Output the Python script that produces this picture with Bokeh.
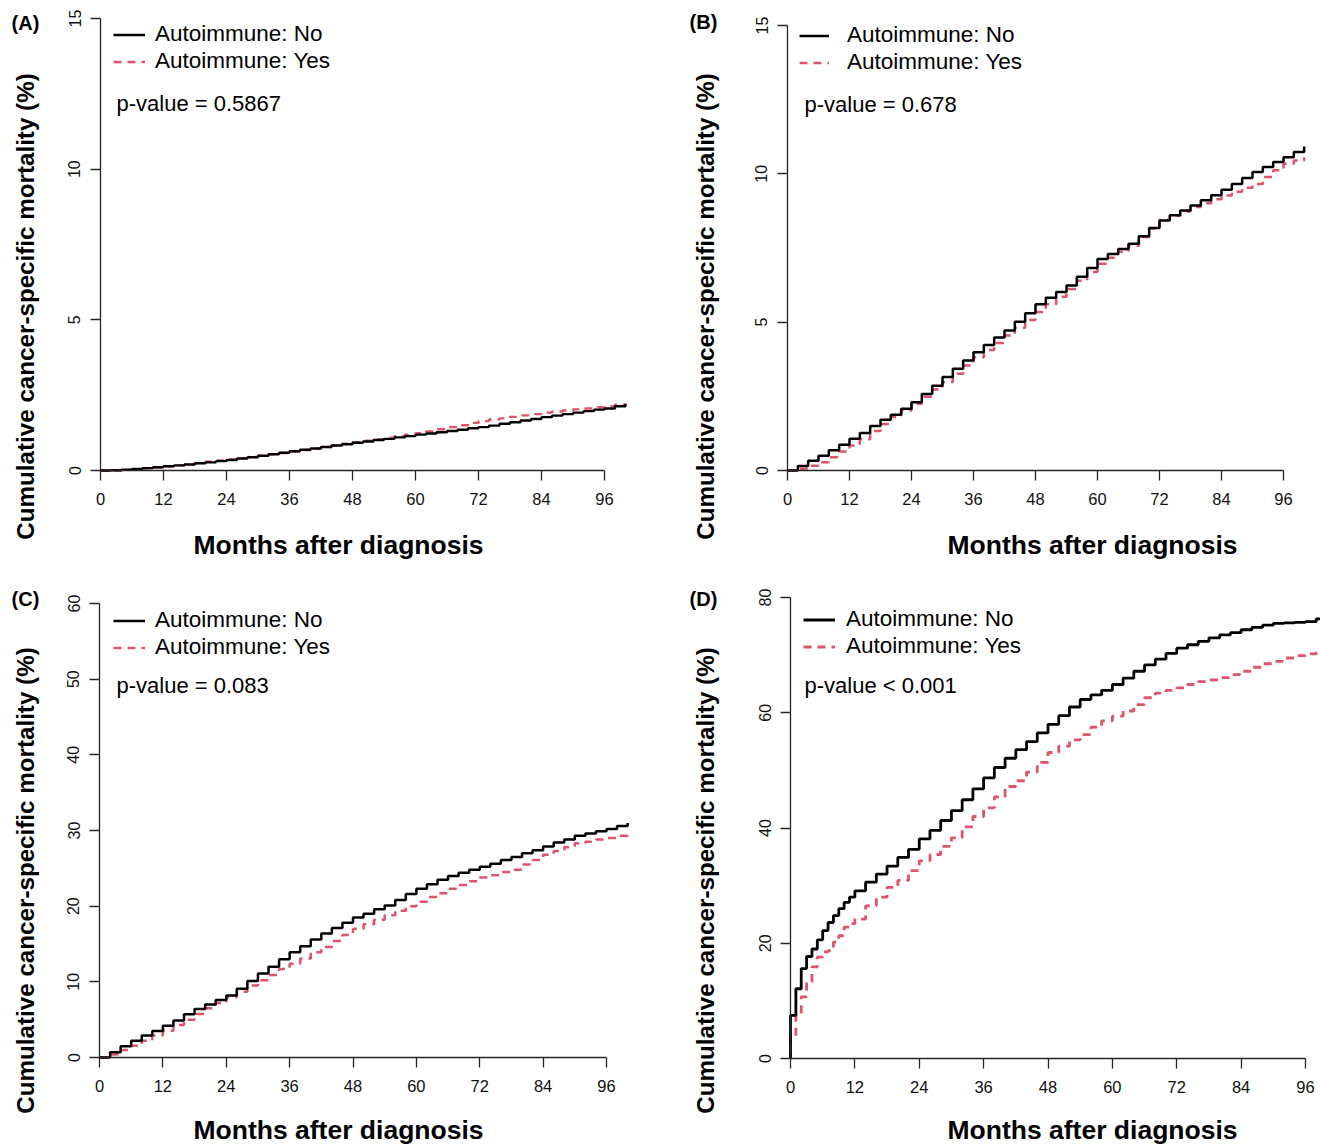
from math import pi
from bokeh.plotting import figure
from bokeh.models import Range1d, FixedTicker, Label, Legend, LegendItem, ColumnDataSource, LinearAxis
from bokeh.layouts import row, column
from bokeh.embed import file_html
from bokeh.resources import INLINE

# ---------------- data ----------------
X_TICKS = [0, 12, 24, 36, 48, 60, 72, 84, 96]
MONTHS = list(range(0, 101, 2))

A_NO = [0, 0.01, 0.03, 0.05, 0.08, 0.11, 0.14, 0.17, 0.20, 0.24,
        0.27, 0.31, 0.35, 0.40, 0.44, 0.49, 0.54, 0.59, 0.64, 0.69,
        0.73, 0.78, 0.83, 0.87, 0.92, 0.96, 1.01, 1.05, 1.10, 1.14,
        1.19, 1.23, 1.27, 1.31, 1.35, 1.40, 1.44, 1.49, 1.55, 1.60,
        1.66, 1.71, 1.77, 1.82, 1.87, 1.92, 1.97, 2.02, 2.06, 2.13,
        2.21]
A_YES = [0, 0.00, 0.02, 0.04, 0.07, 0.10, 0.14, 0.17, 0.21, 0.25,
         0.29, 0.33, 0.37, 0.41, 0.45, 0.49, 0.54, 0.58, 0.63, 0.68,
         0.73, 0.78, 0.83, 0.89, 0.94, 0.99, 1.04, 1.09, 1.14, 1.19,
         1.24, 1.30, 1.37, 1.44, 1.50, 1.58, 1.64, 1.69, 1.73, 1.78,
         1.83, 1.87, 1.92, 1.96, 1.99, 2.03, 2.06, 2.10, 2.13, 2.18,
         2.23]

B_NO = [0, 0.15, 0.33, 0.50, 0.68, 0.87, 1.07, 1.26, 1.50, 1.71,
        1.88, 2.08, 2.30, 2.58, 2.86, 3.15, 3.43, 3.71, 3.99, 4.23,
        4.48, 4.72, 5.01, 5.30, 5.60, 5.82, 6.02, 6.24, 6.53, 6.83,
        7.13, 7.30, 7.47, 7.64, 7.90, 8.17, 8.43, 8.60, 8.76, 8.93,
        9.11, 9.28, 9.46, 9.66, 9.86, 10.06, 10.23, 10.40, 10.56, 10.74,
        10.92]
B_YES = [0, 0.06, 0.16, 0.28, 0.45, 0.64, 0.84, 1.05, 1.33, 1.57,
         1.80, 2.02, 2.25, 2.49, 2.73, 2.98, 3.26, 3.54, 3.82, 4.06,
         4.30, 4.55, 4.81, 5.07, 5.34, 5.60, 5.86, 6.12, 6.40, 6.69,
         6.97, 7.17, 7.37, 7.58, 7.87, 8.16, 8.45, 8.59, 8.73, 8.88,
         9.01, 9.14, 9.27, 9.40, 9.53, 9.66, 9.89, 10.12, 10.34, 10.45,
         10.56]

C_NO = [0, 0.7, 1.5, 2.2, 2.9, 3.5, 4.2, 4.9, 5.7, 6.4,
        7.0, 7.6, 8.2, 9.1, 10.1, 11.1, 12.0, 13.0, 13.9, 14.7,
        15.6, 16.4, 17.1, 17.8, 18.5, 19.0, 19.6, 20.1, 20.8, 21.6,
        22.3, 22.9, 23.5, 24.0, 24.4, 24.8, 25.2, 25.6, 26.1, 26.5,
        27.0, 27.4, 27.9, 28.4, 28.8, 29.3, 29.6, 29.9, 30.2, 30.6,
        31.0]
C_YES = [0, 0.4, 1.0, 1.55, 2.2, 2.9, 3.54, 4.3, 5.0, 5.75,
         6.5, 7.2, 7.96, 8.7, 9.5, 10.2, 10.9, 11.7, 12.4, 13.1,
         13.9, 14.6, 15.4, 16.2, 17.0, 17.6, 18.2, 18.8, 19.4, 20.0,
         20.6, 21.2, 21.7, 22.3, 22.8, 23.3, 23.8, 24.1, 24.5, 24.8,
         25.5, 26.1, 26.8, 27.3, 27.8, 28.3, 28.5, 28.8, 29.0, 29.3,
         29.6]

D_MONTHS = [0, 0, 1, 2, 3, 4, 5, 6, 7, 8, 9, 10, 11, 12] + list(range(14, 101, 2))
D_NO = [0, 7.5, 12.1, 15.6, 17.7, 19.0, 20.6, 22.2, 23.6, 24.8, 26.0, 27.1, 28.0, 29.1,
        30.6, 32.0, 33.4, 34.9, 36.3, 38.1, 39.6, 41.3, 43.0, 44.9,
        46.8, 48.7, 50.5, 52.1, 53.6, 55.0, 56.5, 58.0, 59.5, 61.0,
        62.3, 63.1, 63.9, 64.9, 66.0, 67.2, 68.3, 69.3, 70.3, 71.2,
        71.8, 72.4, 73.0, 73.5, 73.9, 74.4, 74.8, 75.2, 75.5, 75.6,
        75.7, 75.8, 76.3, 76.6]
D_YES = [0, 3.7, 7.5, 10.7, 13.3, 15.9, 17.6, 18.5, 18.7, 20.2, 21.3, 22.8, 23.4, 24.2,
         26.5, 28.0, 29.7, 30.9, 32.6, 34.3, 35.4, 36.8, 38.3, 40.2,
         42.0, 43.5, 45.4, 47.2, 48.2, 49.7, 51.4, 53.1, 54.2, 55.3,
         56.2, 57.5, 58.6, 59.4, 60.3, 61.4, 62.6, 63.4, 63.9, 64.3,
         64.9, 65.4, 65.7, 66.1, 66.6, 67.2, 67.9, 68.5, 68.9, 69.5,
         69.9, 70.2, 70.4, 70.5]

P_VALUES = ["p-value = 0.5867", "p-value = 0.678", "p-value = 0.083", "p-value < 0.001"]
TAGS = ["(A)", "(B)", "(C)", "(D)"]
Y_TICKS = [[0, 5, 10, 15], [0, 5, 10, 15], [0, 10, 20, 30, 40, 50, 60], [0, 20, 40, 60, 80]]
Y_MAX = [15, 15, 60, 80]
LEG_NO = "Autoimmune: No"
LEG_YES = "Autoimmune: Yes"
X_LABEL = "Months after diagnosis"
Y_LABEL = "Cumulative cancer-specific mortality (%)"

# ---------------- style / geometry ----------------
FONT = "Liberation Sans"
BLACK = "#000000"
RED = "#DF536B"
AXIS_COL = "#262626"

# pixel geometry of each panel: figure box (x0, y0, w, h); axis scale anchors
# fl = pixel of month 0, x96 = pixel of month 96, fb = pixel of y=0, ft = pixel of y=max
GEOM = [
    dict(x0=0, y0=0, w=680, h=580, fl=100, x96=604, ft=18, fb=470, lw=2.4,
         gl=113, gw=32, it=34, so=10, pv=(116, 103), tag=(25, 22), xl=(338, 544), yl=(25, 306)),
    dict(x0=680, y0=0, w=640, h=580, fl=787, x96=1283, ft=25, fb=470, lw=2.5,
         gl=799, gw=30, it=35, so=18, pv=(804, 104), tag=(703, 21), xl=(1092, 544), yl=(705, 306)),
    dict(x0=0, y0=580, w=680, h=564, fl=99, x96=606, ft=603, fb=1057, lw=2.5,
         gl=113, gw=32, it=620, so=10, pv=(116, 685), tag=(25, 598), xl=(338, 1129), yl=(25, 880)),
    dict(x0=680, y0=580, w=640, h=564, fl=790, x96=1305, ft=597, fb=1058, lw=2.8,
         gl=803, gw=32, it=619, so=11, pv=(804, 685), tag=(703, 598), xl=(1092, 1129), yl=(705, 880)),
]

SERIES = [(MONTHS, A_NO, A_YES), (MONTHS, B_NO, B_YES), (MONTHS, C_NO, C_YES), (D_MONTHS, D_NO, D_YES)]
ITEM_H = 27


def make_panel(i):
    g = GEOM[i]
    months, no, yes = SERIES[i]
    ymax = Y_MAX[i]

    def dx(px):
        return (px - g["fl"]) / (g["x96"] - g["fl"]) * 96

    def dy(py):
        return (g["fb"] - py) / (g["fb"] - g["ft"]) * ymax

    p = figure(width=g["w"], height=g["h"], output_backend="svg", toolbar_location=None,
               x_range=Range1d(dx(g["x0"]), dx(g["x0"] + g["w"])),
               y_range=Range1d(dy(g["y0"] + g["h"]), dy(g["y0"])),
               x_axis_location=None, y_axis_location=None,
               min_border=0, min_border_left=0, min_border_right=0,
               min_border_top=0, min_border_bottom=0)
    p.outline_line_color = None
    p.grid.visible = False
    p.background_fill_color = "white"
    p.border_fill_color = "white"

    xaxis = LinearAxis(fixed_location=0, ticker=FixedTicker(ticks=X_TICKS), bounds=(0, 96))
    yaxis = LinearAxis(fixed_location=0, ticker=FixedTicker(ticks=Y_TICKS[i]), bounds=(0, ymax))
    for ax in (xaxis, yaxis):
        ax.axis_line_color = AXIS_COL
        ax.axis_line_width = 1.3
        ax.major_tick_line_color = AXIS_COL
        ax.major_tick_line_width = 1.3
        ax.major_tick_out = 10
        ax.major_tick_in = 0
        ax.minor_tick_out = 0
        ax.minor_tick_in = 0
        ax.major_label_text_font = FONT
        ax.major_label_text_color = "#111111"
    xaxis.major_label_text_font_size = "16.5px"
    xaxis.major_label_standoff = 12
    yaxis.major_label_text_font_size = "16px"
    yaxis.major_label_orientation = "vertical"
    yaxis.major_label_standoff = 10
    p.add_layout(xaxis, "below")
    p.add_layout(yaxis, "left")

    src_no = ColumnDataSource(dict(m=months, v=no))
    src_yes = ColumnDataSource(dict(m=months, v=yes))
    r_yes = p.step(x="m", y="v", source=src_yes, mode="after", line_color=RED,
                   line_width=g["lw"], line_dash="8 6")
    r_no = p.step(x="m", y="v", source=src_no, mode="after", line_color=BLACK, line_width=g["lw"])

    top_px = g["it"] - ITEM_H / 2
    legend = Legend(items=[LegendItem(label=LEG_NO, renderers=[r_no]),
                           LegendItem(label=LEG_YES, renderers=[r_yes])],
                    location=(g["gl"] - g["x0"], g["y0"] + g["h"] - top_px - 2 * ITEM_H),
                    glyph_width=g["gw"], glyph_height=ITEM_H, label_height=ITEM_H,
                    label_standoff=g["so"], spacing=0, padding=0, margin=0,
                    border_line_color=None, background_fill_alpha=0,
                    label_text_font=FONT, label_text_font_size="22.5px", label_text_color=BLACK)
    p.add_layout(legend)

    p.add_layout(Label(x=dx(g["pv"][0]), y=dy(g["pv"][1]), text=P_VALUES[i], text_font=FONT,
                       text_font_size="22px", text_color=BLACK, text_align="left",
                       text_baseline="middle"))
    p.add_layout(Label(x=dx(g["tag"][0]), y=dy(g["tag"][1]), text=TAGS[i], text_font=FONT,
                       text_font_size="20px", text_font_style="bold", text_color=BLACK,
                       text_align="center", text_baseline="middle"))
    p.add_layout(Label(x=dx(g["xl"][0]), y=dy(g["xl"][1]), text=X_LABEL, text_font=FONT,
                       text_font_size="26.5px", text_font_style="bold", text_color=BLACK,
                       text_align="center", text_baseline="middle"))
    p.add_layout(Label(x=dx(g["yl"][0]), y=dy(g["yl"][1]), text=Y_LABEL, text_font=FONT,
                       text_font_size="24.2px", text_font_style="bold", text_color=BLACK,
                       text_align="center", text_baseline="middle", angle=pi / 2))
    return p


panels = [make_panel(i) for i in range(4)]
layout = column(row(panels[0], panels[1]), row(panels[2], panels[3]))

open("out.html", "w").write(file_html(layout, INLINE))
